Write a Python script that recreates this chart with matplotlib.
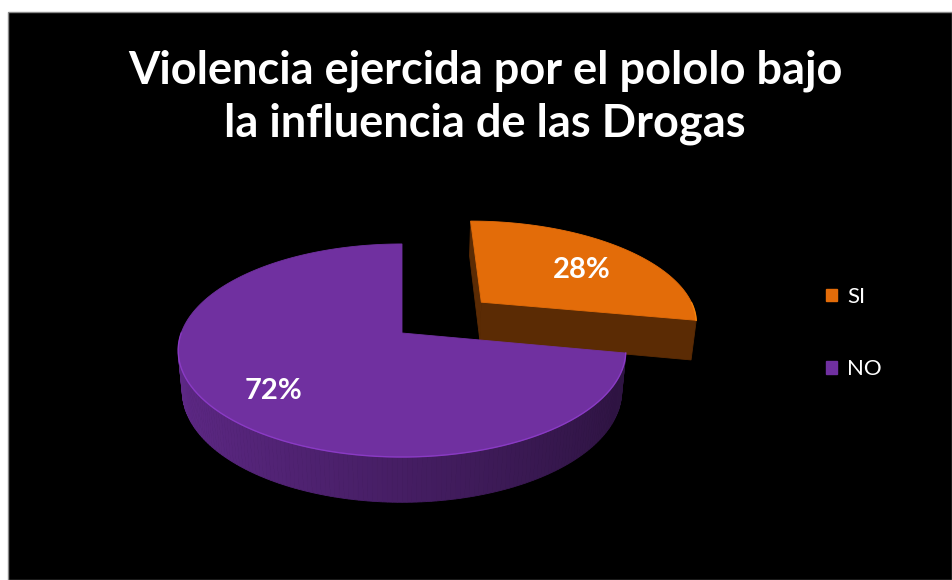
import numpy as np
import matplotlib
matplotlib.use("Agg")
import matplotlib.pyplot as plt
from matplotlib.patches import Polygon, Rectangle, Patch
from matplotlib.colors import to_rgb

# ---------------- data ----------------
title = "Violencia ejercida por el pololo bajo\nla influencia de las Drogas"
categories = ["SI", "NO"]
values = [28, 72]
colors_top = ["#E36C09", "#7030A0"]
explode = [0.49, 0.0]

# ---------------- figure ----------------
W, H = 952, 580
fig = plt.figure(figsize=(9.52, 5.80), dpi=100, facecolor="white")
ax = fig.add_axes([0, 0, 1, 1])
ax.set_xlim(0, W)
ax.set_ylim(H, 0)
ax.axis("off")
ax.add_patch(Rectangle((8, 12), W - 8, H - 12, facecolor="black",
                       edgecolor="#8a8a8a", lw=1, zorder=0))

# ---------------- 3D projection ----------------
elev = np.radians(28)
ce, se = np.cos(elev), np.sin(elev)
D, f = 5.38, 1188.0
ox, oy = 402, 333
h = 0.21
cam = np.array([0.0, -D * ce, D * se])


def proj(x, y, z):
    depth = D + y * ce - z * se
    return ox + f * x / depth, oy - f * (z * ce + y * se) / depth


def depth_of(p):
    return D + p[1] * ce - p[2] * se


total = float(sum(values))
slices = []
cum = 0.0
for cat, v, col, ex in zip(categories, values, colors_top, explode):
    a0 = 90 - cum / total * 360
    cum += v
    a1 = 90 - cum / total * 360
    mid = np.radians((a0 + a1) / 2)
    off = np.array([ex * np.cos(mid), ex * np.sin(mid), 0.0])
    slices.append(dict(cat=cat, v=v, col=np.array(to_rgb(col)), a0=a0, a1=a1,
                       mid=mid, off=off))

# draw far slices first
slices.sort(key=lambda s: -depth_of(s["off"]))

for s in slices:
    col = s["col"]
    off = s["off"]
    th = np.radians(np.linspace(s["a0"], s["a1"], 240))
    faces = []
    # outer arc segments
    for k in range(len(th) - 1):
        t0, t1 = th[k], th[k + 1]
        tm = (t0 + t1) / 2
        n = np.array([np.cos(tm), np.sin(tm), 0.0])
        pm = off + np.array([np.cos(tm), np.sin(tm), -h / 2])
        if np.dot(cam - pm, n) <= 0:
            continue
        pts = [off + np.array([np.cos(t0), np.sin(t0), 0]),
               off + np.array([np.cos(t1), np.sin(t1), 0]),
               off + np.array([np.cos(t1), np.sin(t1), -h]),
               off + np.array([np.cos(t0), np.sin(t0), -h])]
        fac = 0.62 - 0.22 * np.cos(tm)
        faces.append((depth_of(pm), pts, np.clip(col * fac, 0, 1)))
    # radial faces
    for ang, sign in ((s["a0"], 1), (s["a1"], -1)):
        t = np.radians(ang)
        n = np.array([np.cos(t + sign * np.pi / 2), np.sin(t + sign * np.pi / 2), 0])
        pm = off + np.array([0.5 * np.cos(t), 0.5 * np.sin(t), -h / 2])
        if np.dot(cam - pm, n) <= 0:
            continue
        pts = [off + np.array([0, 0, 0]),
               off + np.array([np.cos(t), np.sin(t), 0]),
               off + np.array([np.cos(t), np.sin(t), -h]),
               off + np.array([0, 0, -h])]
        faces.append((depth_of(pm), pts, np.clip(col * 0.40, 0, 1)))
    faces.sort(key=lambda q: -q[0])
    for _, pts, c in faces:
        xy = [proj(*p) for p in pts]
        ax.add_patch(Polygon(xy, closed=True, facecolor=c, edgecolor=c,
                             lw=0.6, zorder=2))
    # top face
    top = [proj(*off)] + [proj(off[0] + np.cos(t), off[1] + np.sin(t), 0) for t in th]
    ax.add_patch(Polygon(top, closed=True, facecolor=col, edgecolor=col,
                         lw=0.6, zorder=2))
    # subtle rim highlight on the front edge
    vis = [t for t in th if np.sin(t) < 0]
    if vis:
        rim = np.array([proj(off[0] + np.cos(t), off[1] + np.sin(t), 0) for t in vis])
        ax.plot(rim[:, 0], rim[:, 1], color=np.clip(col * 1.3, 0, 1), lw=1.0,
                alpha=0.8, zorder=3)
    # percentage label
    lr = 0.7
    lx, ly = proj(off[0] + lr * np.cos(s["mid"]), off[1] + lr * np.sin(s["mid"]), -0.04)
    ax.text(lx, ly, f"{s['v']}%", color="white", fontsize=21, fontweight="bold",
            family="Lato", ha="center", va="center", zorder=4)

# ---------------- title ----------------
ax.text(485, 97, title, color="white", fontsize=32.5, fontweight="bold",
        family="Lato", ha="center", va="center", linespacing=1.3, zorder=4)

# ---------------- legend ----------------
handles = [Patch(facecolor=c, edgecolor=c) for c in colors_top]
leg = ax.legend(handles, categories, loc="center left",
                bbox_to_anchor=(806, 333), bbox_transform=ax.transData,
                frameon=False, labelcolor="white",
                handlelength=0.5, handleheight=0.5, handletextpad=0.45,
                labelspacing=2.35, prop={"family": "Lato", "size": 16})
leg.set_zorder(5)

fig.savefig("out.png", dpi=100, facecolor="white")
